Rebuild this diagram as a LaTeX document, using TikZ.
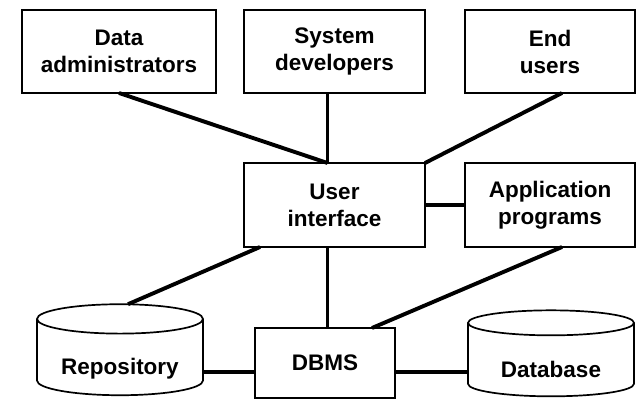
\documentclass[tikz,border=0pt]{standalone}
\usepackage{fontspec}
\setmainfont{Liberation Sans}
\usetikzlibrary{shapes.geometric}

\begin{document}
\begin{tikzpicture}[x=1pt,y=-1pt,
  every node/.style={font=\fontsize{22.5}{27}\selectfont\bfseries, align=center, inner sep=0pt, outer sep=0pt},
  box/.style={draw, line width=1.7pt, rectangle},
  drum/.style={draw, line width=1.7pt, cylinder, shape border rotate=90, aspect=0.25, text height=34pt, text depth=0pt},
  link/.style={line width=3.9pt}]
\useasboundingbox (0,0) rectangle (637,406);

\node[box, minimum width=194pt, minimum height=83pt] (admins) at (119,51.5) {Data\\administrators};
\node[box, minimum width=181pt, minimum height=83pt] (devs) at (334.5,51.5) {System\\developers};
\node[box, minimum width=170pt, minimum height=83pt] (endusers) at (550,51.5) {End\\users};

\node[box, minimum width=181pt, minimum height=84pt] (ui) at (334.5,205) {User\\interface};
\node[box, minimum width=170pt, minimum height=84pt] (apps) at (550,205) {Application\\programs};

\node[box, minimum width=140pt, minimum height=70pt] (dbms) at (325,363) {DBMS};
\node[drum, minimum width=166pt, minimum height=91pt] (repo) at (120,357.5) {Repository};
\node[drum, minimum width=166pt, minimum height=86pt] (db) at (551,360) {Database};

\draw[link] (admins.south) -- ([xshift=-7pt]ui.north);
\draw[link] ([xshift=-7pt]devs.south) -- ([xshift=-7pt]ui.north);
\draw[link] ([xshift=12pt]endusers.south) -- (ui.north east);
\draw[link] (ui.east) -- (apps.west);
\draw[link] ([xshift=16pt]ui.south west) -- ([xshift=8pt]repo.north);
\draw[link] ([xshift=-7pt]ui.south) -- ([xshift=-7pt]ui.south |- dbms.north);
\draw[link] ([xshift=12pt]apps.south) -- ([xshift=47pt]dbms.north);
\draw[link] ([yshift=-9pt]dbms.west) -- ([yshift=-9pt]dbms.west -| repo.east);
\draw[link] ([yshift=-9pt]dbms.east) -- ([yshift=-9pt]dbms.east -| db.west);
\end{tikzpicture}
\end{document}
